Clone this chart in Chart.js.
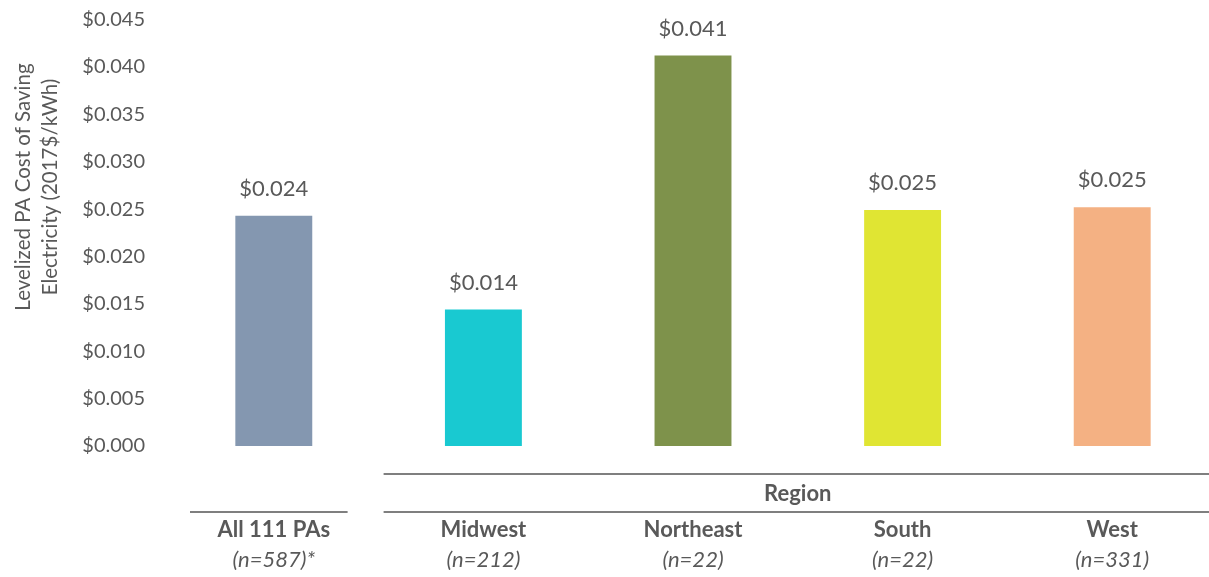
<!DOCTYPE html>
<html>
<head>
<meta charset="utf-8">
<script src="https://cdn.jsdelivr.net/npm/chart.js@4.4.0/dist/chart.umd.min.js"></script>
<style>
  html, body { margin: 0; padding: 0; background: #fff; overflow: hidden; }
  #wrap { width: 1217px; height: 577px; position: relative; }
</style>
</head>
<body>
<div id="wrap"><canvas id="c"></canvas></div>
<script>
const categories = ["All 111 PAs", "Midwest", "Northeast", "South", "West"];
const sampleSizes = ["(n=587)*", "(n=212)", "(n=22)", "(n=22)", "(n=331)"];
const costValues = [0.0243, 0.0144, 0.0412, 0.0249, 0.0252];
const barColors = ["#8497B0", "#19C9D1", "#7E924B", "#E0E533", "#F4B183"];
const yTickValues = [0, 0.005, 0.01, 0.015, 0.02, 0.025, 0.03, 0.035, 0.04, 0.045];
const yTitleLines = ["Levelized PA Cost of Saving", "Electricity (2017$/kWh)"];
const groupLabel = "Region";

const TEXT = "#595959";
Chart.defaults.font.family = "Lato, 'Open Sans', sans-serif";
Chart.defaults.color = TEXT;

const overlay = {
  id: "overlay",
  afterDatasetsDraw(chart) {
    const ctx = chart.ctx;
    const x = chart.scales.x;
    const meta = chart.getDatasetMeta(0);
    ctx.save();
    // value labels
    ctx.fillStyle = TEXT;
    ctx.font = "22px Lato, 'Open Sans', sans-serif";
    ctx.textAlign = "center";
    ctx.textBaseline = "bottom";
    meta.data.forEach((bar, i) => {
      ctx.fillText("$" + costValues[i].toFixed(3), bar.x, bar.y - 16);
    });
    // y axis title
    ctx.font = "20.5px Lato, 'Open Sans', sans-serif";
    ctx.textBaseline = "middle";
    const cy = 187;
    [23, 50].forEach((lx, k) => {
      ctx.save();
      ctx.translate(lx, cy);
      ctx.rotate(-Math.PI / 2);
      ctx.fillText(yTitleLines[k], 0, 0);
      ctx.restore();
    });
    // group lines
    const half = (x.getPixelForValue(1) - x.getPixelForValue(0)) / 2;
    const b0 = x.getPixelForValue(0);
    const b1 = x.getPixelForValue(1) - half;
    ctx.strokeStyle = "#7F7F7F";
    ctx.lineWidth = 2;
    ctx.beginPath();
    ctx.moveTo(b1 + 5, 474); ctx.lineTo(chart.width, 474);
    ctx.moveTo(b0 - half + 21, 512); ctx.lineTo(b1 - 31, 512);
    ctx.moveTo(b1 + 5, 512); ctx.lineTo(chart.width, 512);
    ctx.stroke();
    ctx.font = "bold 22px Lato, 'Open Sans', sans-serif";
    ctx.fillStyle = TEXT;
    const gx = (x.getPixelForValue(1) + x.getPixelForValue(4)) / 2;
    ctx.fillText(groupLabel, gx, 494);
    ctx.restore();
  }
};

new Chart(document.getElementById("c"), {
  type: "bar",
  data: {
    labels: categories,
    datasets: [{
      data: costValues,
      backgroundColor: barColors,
      barPercentage: 0.367,
      categoryPercentage: 1.0,
      borderWidth: 0
    }]
  },
  options: {
    responsive: true,
    maintainAspectRatio: false,
    animation: false,
    layout: { padding: { top: 19.5, left: 0, right: 0, bottom: 0 } },
    plugins: { legend: { display: false }, tooltip: { enabled: false } },
    scales: {
      y: {
        min: 0, max: 0.045,
        afterFit(s) { s.width = 169; s.paddingTop = 10; s.paddingBottom = 10; },
        afterBuildTicks(s) { s.ticks = yTickValues.map(v => ({ value: v })); },
        grid: { display: false, drawTicks: false },
        border: { display: false },
        ticks: {
          padding: 24,
          font: { size: 20 },
          color: TEXT,
          callback: v => "$" + Number(v).toFixed(3)
        }
      },
      x: {
        type: "category",
        position: "bottom",
        weight: 0,
        afterFit(s) { s.height = 100; },
        grid: { display: false, drawTicks: false },
        border: { display: false },
        ticks: { padding: 71, font: { size: 22, weight: "bold" }, color: TEXT, maxRotation: 0, autoSkip: false }
      },
      x2: {
        type: "category",
        position: "bottom",
        weight: 1,
        labels: sampleSizes,
        afterFit(s) { s.height = 31; },
        grid: { display: false, drawTicks: false },
        border: { display: false },
        ticks: { padding: 1, font: { size: 22, style: "italic" }, color: TEXT, maxRotation: 0, autoSkip: false }
      }
    }
  },
  plugins: [overlay]
});
</script>
</body>
</html>
